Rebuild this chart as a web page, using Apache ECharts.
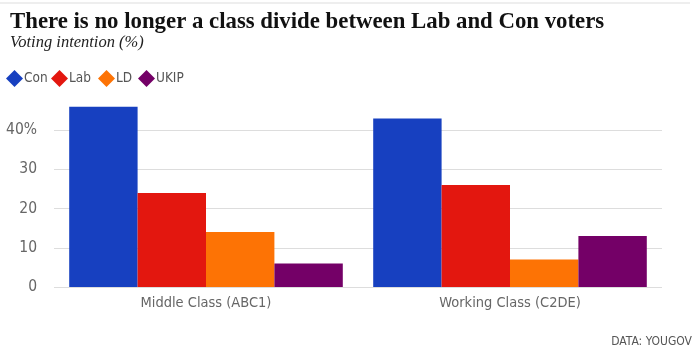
<!DOCTYPE html>
<html><head><meta charset="utf-8">
<script src="https://cdn.jsdelivr.net/npm/echarts@6/dist/echarts.min.js"></script>
<style>html,body{margin:0;padding:0;background:#fff}#c{width:700px;height:357px}</style>
</head><body><div id="c"></div>
<script>
var categories = ['Middle Class (ABC1)', 'Working Class (C2DE)'];
var seriesNames = ['Con', 'Lab', 'LD', 'UKIP'];
var con = [46, 43];
var lab = [24, 26];
var ld = [14, 7];
var ukip = [6, 13];
var colors = ['#1740c0', '#e3170f', '#fd7305', '#740067'];
var values = [con, lab, ld, ukip];

var chart = echarts.init(document.getElementById('c'), null, {renderer: 'canvas'});
var condensed = '"DejaVu Sans Condensed", "Noto Sans", sans-serif';
var legendLefts = [6, 51, 98, 138];
chart.setOption({
  animation: false,
  color: colors,
  title: [
    {text: 'There is no longer a class divide between Lab and Con voters', left: 10, top: 11, padding: 0,
     textStyle: {fontFamily: '"Liberation Serif", serif', fontWeight: 'bold', fontSize: 22.8, color: '#111'}},
    {text: 'Voting intention (%)', left: 10, top: 34, padding: 0,
     textStyle: {fontFamily: '"Liberation Serif", serif', fontStyle: 'italic', fontWeight: 'normal', fontSize: 16.5, color: '#222'}},
    {text: 'DATA: YOUGOV', right: 8, top: 336, padding: 0,
     textStyle: {fontFamily: condensed, fontWeight: 'normal', fontSize: 12, color: '#555'}}
  ],
  graphic: [{type: 'line', shape: {x1: 0, y1: 3, x2: 690, y2: 3}, style: {stroke: '#ddd', lineWidth: 1}}],
  legend: seriesNames.map(function (n, i) {
    return {
      left: legendLefts[i], top: 70, padding: 0, icon: 'diamond', itemWidth: 17, itemHeight: 17,
      textStyle: {fontFamily: condensed, fontSize: 13.5, color: '#555', padding: [0, 0, 0, -4]},
      data: [n]
    };
  }),
  grid: {left: 54, right: 38, top: 91, bottom: 70},
  xAxis: {
    type: 'category', data: categories,
    axisLine: {show: false}, axisTick: {show: false},
    axisLabel: {fontFamily: condensed, fontSize: 14.5, color: '#666', margin: 9}
  },
  yAxis: {
    type: 'value', min: 0, max: 50, interval: 10,
    axisLine: {show: false}, axisTick: {show: false},
    axisLabel: {fontFamily: condensed, fontSize: 15.5, color: '#666', margin: 17, showMaxLabel: false,
      formatter: function (v) { return v === 40 ? v + '%' : String(v); }},
    splitLine: {show: true, showMaxLine: false, lineStyle: {color: '#ddd', width: 1}}
  },
  series: seriesNames.map(function (n, i) {
    return {name: n, type: 'bar', data: values[i], barGap: '0%', barCategoryGap: '10%'};
  })
});
</script></body></html>
